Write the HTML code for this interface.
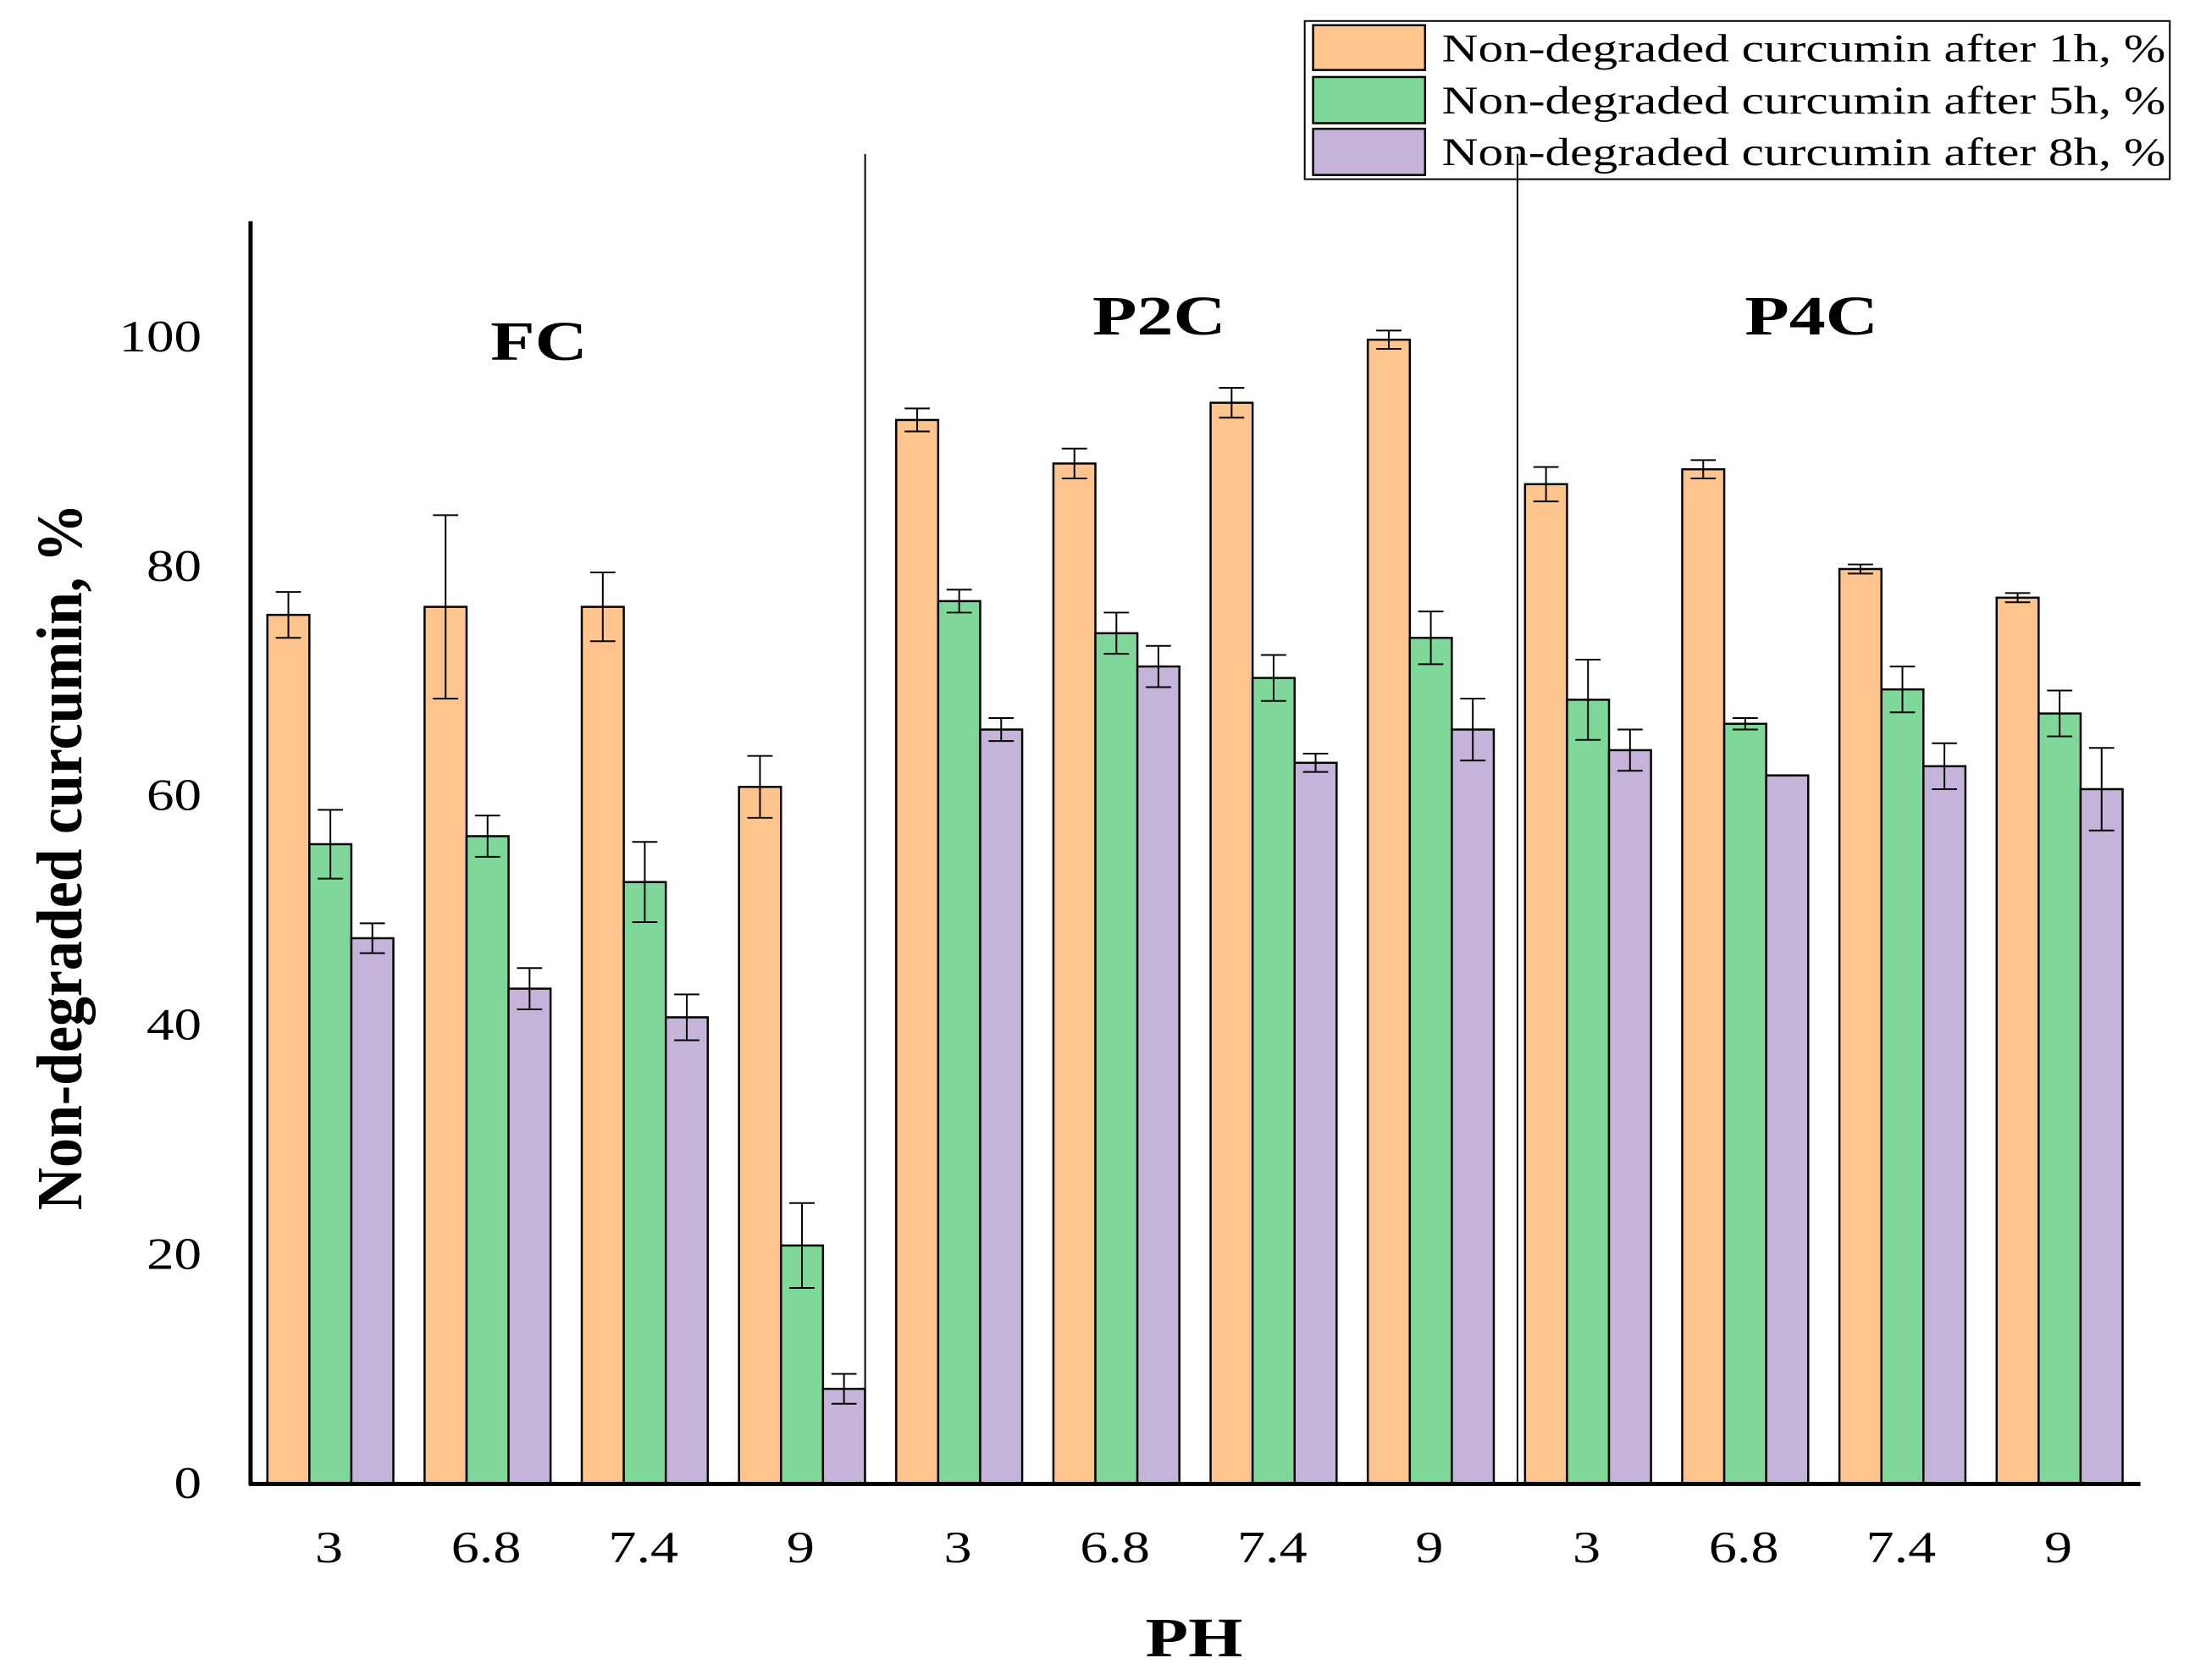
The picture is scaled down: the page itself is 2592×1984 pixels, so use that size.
<!DOCTYPE html>
<html><head><meta charset="utf-8"><style>html,body{margin:0;padding:0;background:#fff}svg{display:block}</style></head>
<body>
<svg id="chart" width="2592" height="1984" viewBox="0 0 1568 1200" preserveAspectRatio="none" xmlns="http://www.w3.org/2000/svg" font-family="'Liberation Serif', serif">
<g id="marks"></g>
<line x1="179" y1="158" x2="179" y2="1061" stroke="#000" stroke-width="3"/>
<line x1="178" y1="1060" x2="1529" y2="1060" stroke="#000" stroke-width="3"/>
<line x1="618" y1="110" x2="618" y2="1060" stroke="#000" stroke-width="1.2"/>
<line x1="1084" y1="110" x2="1084" y2="1060" stroke="#000" stroke-width="1.2"/>
<g id="yticks"></g><g id="xticks"></g>
<text transform="translate(385,257) scale(1.3,1)" font-size="40" font-weight="bold" text-anchor="middle">FC</text>
<text transform="translate(828,239) scale(1.3,1)" font-size="40" font-weight="bold" text-anchor="middle">P2C</text>
<text transform="translate(1294,239) scale(1.3,1)" font-size="40" font-weight="bold" text-anchor="middle">P4C</text>
<text transform="translate(853,1183) scale(1.25,1)" font-size="40" font-weight="bold" text-anchor="middle">PH</text>
<text transform="translate(58,612) rotate(-90)" font-size="46" font-weight="bold" text-anchor="middle" textLength="505" lengthAdjust="spacingAndGlyphs">Non-degraded curcumin, %</text>
<g>
<rect x="932" y="15" width="618" height="113" fill="#fff" stroke="#000" stroke-width="1.2"/>
<line x1="1084" y1="110" x2="1084" y2="128" stroke="#000" stroke-width="1.2"/>
<rect x="938" y="18" width="80" height="32" fill="#fdc48e" stroke="#000" stroke-width="1.5"/>
<rect x="938" y="55" width="80" height="33" fill="#7fd89a" stroke="#000" stroke-width="1.5"/>
<rect x="938" y="92" width="80" height="33" fill="#c6b3d9" stroke="#000" stroke-width="1.5"/>
<text x="1030" y="44" font-size="28" textLength="517" lengthAdjust="spacingAndGlyphs">Non-degraded curcumin after 1h, %</text>
<text x="1030" y="81" font-size="28" textLength="517" lengthAdjust="spacingAndGlyphs">Non-degraded curcumin after 5h, %</text>
<text x="1030" y="118" font-size="28" textLength="517" lengthAdjust="spacingAndGlyphs">Non-degraded curcumin after 8h, %</text>
</g>
</svg>
<script>
const categories = ["3","6.8","7.4","9","3","6.8","7.4","9","3","6.8","7.4","9"];
const values1h = [75.8,76.5,76.5,60.8,92.8,89,94.3,99.8,87.2,88.5,79.8,77.3];
const err1h = [2,8,3,2.7,1,1.3,1.3,0.8,1.5,0.8,0.4,0.4];
const values5h = [55.8,56.5,52.5,20.8,77,74.2,70.3,73.8,68.4,66.3,69.3,67.2];
const err5h = [3,1.8,3.5,3.7,1,1.8,2,2.3,3.5,0.5,2,2];
const values8h = [47.6,43.2,40.7,8.3,65.8,71.3,62.9,65.8,64,61.8,62.6,60.6];
const err8h = [1.3,1.8,2,1.3,1,1.8,0.8,2.7,1.8,0,2,3.6];
const yTicks = [0,20,40,60,80,100];

const NS="http://www.w3.org/2000/svg";
const y0=1060, pxPerUnit=(1060-241)/100;
function yScale(v){return y0 - v*pxPerUnit;}
function xCenter(i){return 235 + i*112.3;}
const barW=30;
const marks=document.getElementById('marks');
function mk(tag, attrs, parent){const e=document.createElementNS(NS,tag);for(const k in attrs)e.setAttribute(k,attrs[k]);parent.appendChild(e);return e;}
const series=[[values1h,err1h,'#fdc48e','1h'],[values5h,err5h,'#7fd89a','5h'],[values8h,err8h,'#c6b3d9','8h']];
categories.forEach((c,i)=>{
  series.forEach((s,j)=>{
    const v=s[0][i], e=s[1][i];
    const x=xCenter(i)-44+j*barW;
    const r=mk('rect',{x:x,y:yScale(v),width:barW,height:y0-yScale(v),fill:s[2],stroke:'#000','stroke-width':1.5},marks);
    
    
    const cx=x+barW/2, t=yScale(v+e), b=yScale(v-e);
    const g=mk('g',{stroke:'#000','stroke-width':1.2},marks);
    
    
    mk('line',{x1:cx,y1:t,x2:cx,y2:b},g);
    mk('line',{x1:cx-9,y1:t,x2:cx+9,y2:t},g);
    mk('line',{x1:cx-9,y1:b,x2:cx+9,y2:b},g);
  });
  const tx=mk('text',{transform:'translate('+xCenter(i)+',1116) scale(1.25,1)','font-size':32,'text-anchor':'middle'},document.getElementById('xticks'));
  tx.textContent=c;
  
  
});
yTicks.forEach(v=>{
  const t=mk('text',{transform:'translate(144,'+(yScale(v)+10)+') scale(1.23,1)','font-size':32,'text-anchor':'end'},document.getElementById('yticks'));
  t.textContent=v;
  
  
});
</script>
</body></html>
